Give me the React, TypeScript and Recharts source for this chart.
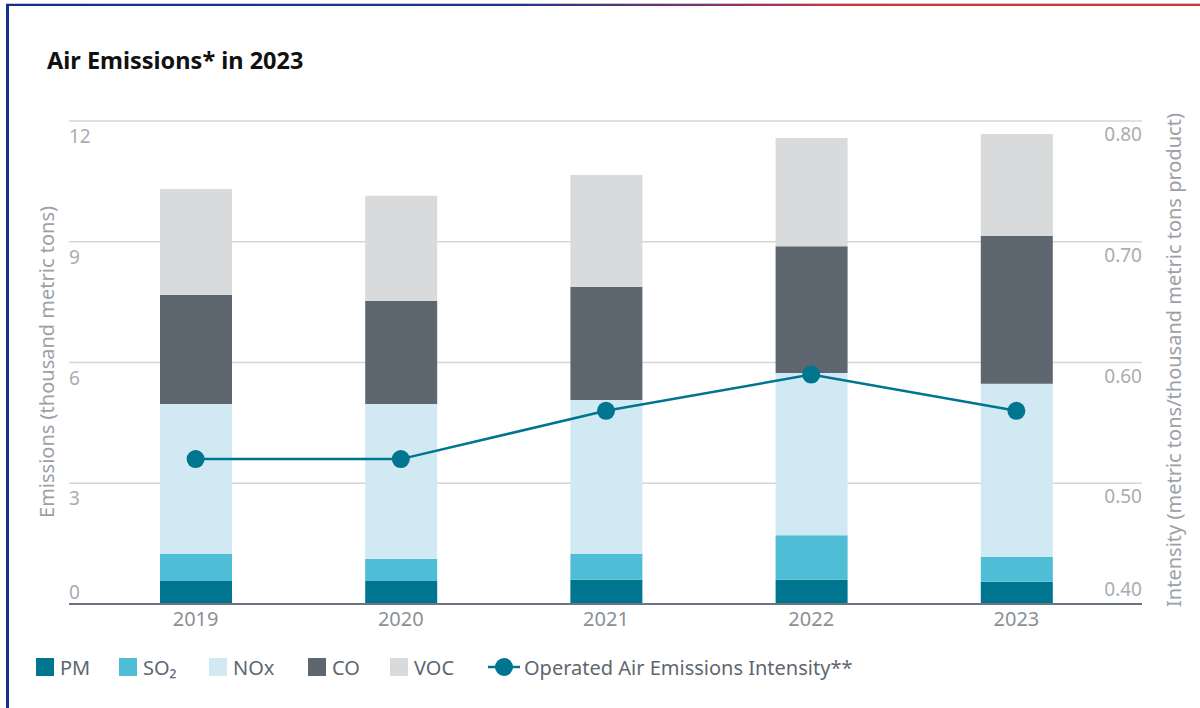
import React from 'react';
import {
  ComposedChart,
  Bar,
  Line,
  XAxis,
  YAxis,
  CartesianGrid,
  Legend,
} from 'recharts';

// values (thousand metric tons, stacked per year)
const years = ['2019', '2020', '2021', '2022', '2023'];
const pm = [0.57, 0.57, 0.6, 0.6, 0.55];
const so2 = [0.67, 0.55, 0.64, 1.11, 0.62];
const nox = [3.73, 3.85, 3.83, 4.03, 4.3];
const co = [2.71, 2.56, 2.81, 3.15, 3.67];
const voc = [2.63, 2.61, 2.78, 2.69, 2.54];
// metric tons / thousand metric tons product
const intensity = [0.52, 0.52, 0.56, 0.59, 0.56];

const leftTicks = [0, 3, 6, 9, 12];
const rightTicks = [0.4, 0.5, 0.6, 0.7, 0.8];

const data = years.map((year, i) => ({
  year,
  pm: pm[i],
  so2: so2[i],
  nox: nox[i],
  co: co[i],
  voc: voc[i],
  intensity: intensity[i],
}));

const FONT = '"Noto Sans", "Open Sans", sans-serif';
const TEAL = '#00758f';
const PLOT_LEFT = 69;
const PLOT_RIGHT = 1142;
const AXIS_W = 1;

const series = [
  { key: 'pm', name: 'PM', color: TEAL },
  { key: 'so2', name: 'SO₂', color: '#4fbdd6' },
  { key: 'nox', name: 'NOx', color: '#d0e9f2' },
  { key: 'co', name: 'CO', color: '#5e6770' },
  { key: 'voc', name: 'VOC', color: '#d9dadc' },
];

const LeftTick = ({ y, payload }: any) => (
  <text
    x={PLOT_LEFT}
    y={payload.value === 0 ? y - 12 : y + 15}
    textAnchor="start"
    dominantBaseline="central"
    fill="#a9adb1"
    fontSize={19}
    fontFamily={FONT}
  >
    {payload.value}
  </text>
);

const RightTick = ({ y, payload }: any) => (
  <text
    x={PLOT_RIGHT}
    y={payload.value <= 0.4 ? y - 15 : y + 13}
    textAnchor="end"
    dominantBaseline="central"
    fill="#a9adb1"
    fontSize={19}
    fontFamily={FONT}
  >
    {Number(payload.value).toFixed(2)}
  </text>
);

const AxisTitle = ({ x, y, text }: { x: number; y: number; text: string }) => (
  <text
    x={x}
    y={y}
    transform={`rotate(-90 ${x} ${y})`}
    textAnchor="middle"
    dominantBaseline="central"
    fill="#9ca1a6"
    fontSize={20}
    fontFamily={FONT}
  >
    {text}
  </text>
);

// legend item offsets (px from the left of the card)
const legendLeft = [36, 119, 209, 308, 390];

const CustomLegend = () => (
  <div style={{ position: 'relative', width: 1200, height: 30, fontFamily: FONT }}>
    {series.map((s, i) => (
      <div
        key={s.key}
        style={{
          position: 'absolute',
          left: legendLeft[i],
          top: 0,
          height: 30,
          display: 'flex',
          alignItems: 'center',
          gap: 6,
        }}
      >
        <span style={{ width: 18, height: 18, background: s.color, display: 'inline-block' }} />
        <span style={{ fontSize: 20, color: '#5e6770' }}>{s.name}</span>
      </div>
    ))}
    <div
      style={{
        position: 'absolute',
        left: 488,
        top: 0,
        height: 30,
        display: 'flex',
        alignItems: 'center',
        gap: 4,
      }}
    >
      <svg width={32} height={20}>
        <line x1={0} y1={10} x2={32} y2={10} stroke={TEAL} strokeWidth={2.5} />
        <circle cx={16} cy={10} r={9} fill={TEAL} />
      </svg>
      <span style={{ fontSize: 20, color: '#5e6770' }}>Operated Air Emissions Intensity**</span>
    </div>
  </div>
);

export default function App() {
  return (
    <div
      style={{
        position: 'absolute',
        left: 0,
        top: 0,
        width: 1200,
        height: 708,
        background: '#fff',
        overflow: 'hidden',
        fontFamily: FONT,
      }}
    >
      {/* card frame: thin top gradient rule and blue left edge */}
      <div style={{ position: 'absolute', left: 6, top: 3, width: 1194, height: 1, background: '#c9c9cc' }} />
      <div
        style={{
          position: 'absolute',
          left: 6,
          top: 4,
          width: 1194,
          height: 2,
          background: 'linear-gradient(90deg, #12308c 0%, #1a358a 42%, #7a3470 58%, #d3323d 70%, #d8323b 100%)',
        }}
      />
      <div style={{ position: 'absolute', left: 6, top: 4, width: 2.5, height: 704, background: '#12308c' }} />

      <div
        style={{
          position: 'absolute',
          left: 47,
          top: 44,
          fontSize: 23.5,
          fontWeight: 700,
          color: '#111',
          whiteSpace: 'nowrap',
        }}
      >
        Air Emissions* in 2023
      </div>

      <ComposedChart
        width={1200}
        height={708}
        data={data}
        margin={{ top: 121, right: 1200 - PLOT_RIGHT - AXIS_W, bottom: 34, left: PLOT_LEFT - AXIS_W }}
        style={{ position: 'absolute', left: 0, top: 0 }}
      >
        <CartesianGrid yAxisId="left" vertical={false} stroke="#d6d6d6" strokeWidth={1.5} />
        <XAxis
          dataKey="year"
          height={40}
          padding={{ left: 24, right: 23 }}
          axisLine={{ stroke: '#6b7380', strokeWidth: 2 }}
          tickLine={false}
          tick={{ fill: '#8b9096', fontSize: 20, fontFamily: FONT }}
        />
        <YAxis
          yAxisId="left"
          width={AXIS_W}
          domain={[0, 12]}
          ticks={leftTicks}
          axisLine={false}
          tickLine={false}
          tick={<LeftTick />}
          label={{
            content: () => <AxisTitle x={46} y={362} text="Emissions (thousand metric tons)" />,
          }}
        />
        <YAxis
          yAxisId="right"
          orientation="right"
          width={AXIS_W}
          domain={[0.4, 0.8]}
          ticks={rightTicks}
          axisLine={false}
          tickLine={false}
          tick={<RightTick />}
          label={{
            content: () => (
              <AxisTitle x={1173} y={360} text="Intensity (metric tons/thousand metric tons product)" />
            ),
          }}
        />
        {series.map((s) => (
          <Bar
            key={s.key}
            yAxisId="left"
            dataKey={s.key}
            name={s.name}
            stackId="emissions"
            fill={s.color}
            barSize={72}
            isAnimationActive={false}
          />
        ))}
        <Line
          yAxisId="right"
          type="linear"
          dataKey="intensity"
          name="Operated Air Emissions Intensity**"
          stroke={TEAL}
          strokeWidth={2.5}
          dot={{ r: 9, fill: TEAL, stroke: TEAL, strokeWidth: 0 }}
          activeDot={false}
          isAnimationActive={false}
        />
        <Legend
          content={<CustomLegend />}
          wrapperStyle={{ position: 'absolute', left: 0, top: 652, width: 1200, height: 30 }}
        />
      </ComposedChart>
    </div>
  );
}
